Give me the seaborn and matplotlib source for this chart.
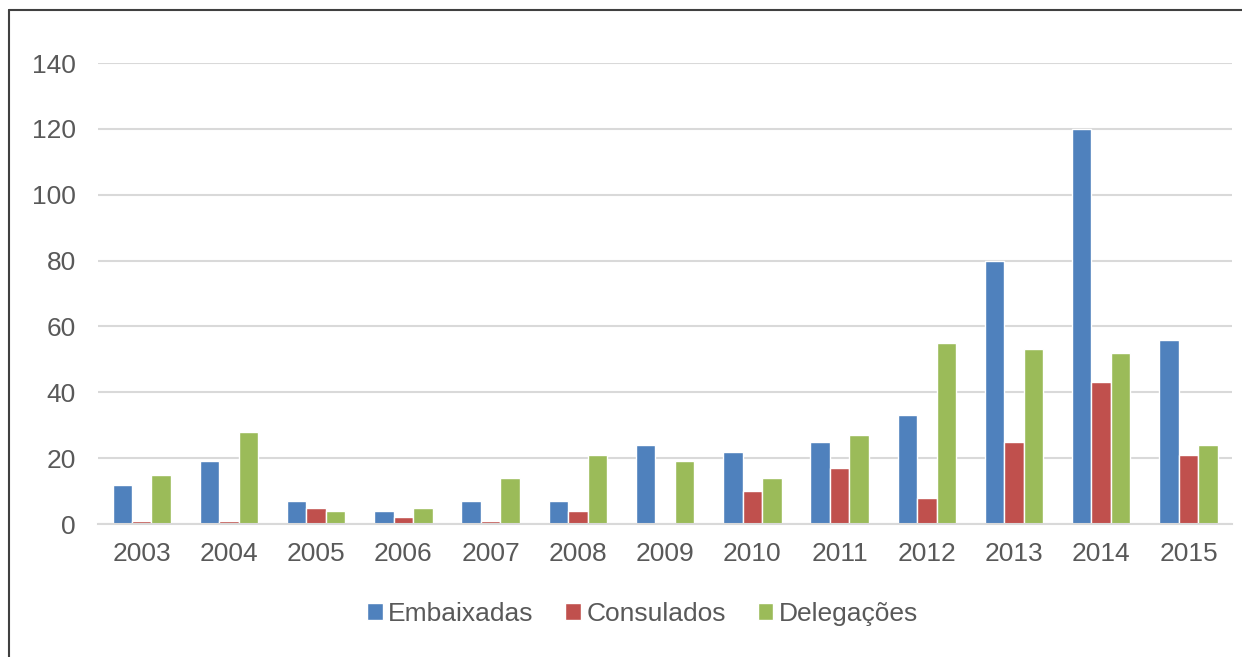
import matplotlib
matplotlib.use("Agg")
import matplotlib.pyplot as plt
import seaborn as sns
import pandas as pd
from matplotlib.lines import Line2D

years = ["2003", "2004", "2005", "2006", "2007", "2008", "2009",
         "2010", "2011", "2012", "2013", "2014", "2015"]
embaixadas = [12, 19, 7, 4, 7, 7, 24, 22, 25, 33, 80, 120, 56]
consulados = [1, 1, 5, 2, 1, 4, 0, 10, 17, 8, 25, 43, 21]
delegacoes = [15, 28, 4, 5, 14, 21, 19, 14, 27, 55, 53, 52, 24]
series_names = ["Embaixadas", "Consulados", "Delegações"]
colors = ["#4F81BD", "#C0504D", "#9BBB59"]

rows = []
for name, vals in zip(series_names, [embaixadas, consulados, delegacoes]):
    for y, v in zip(years, vals):
        rows.append({"Ano": y, "Valor": v, "Tipo": name})
df = pd.DataFrame(rows)

sns.set_theme(style="white")
plt.rcParams['font.family'] = ['Liberation Sans', 'DejaVu Sans']

fig = plt.figure(figsize=(12.42, 6.57), dpi=100)
ax = fig.add_axes([0.079, 0.2024, 0.913, 0.7017])

sns.barplot(data=df, x="Ano", y="Valor", hue="Tipo", palette=colors,
            width=0.67, ax=ax, saturation=1, legend=True)

ax.set_ylim(0, 140)
ax.set_yticks(range(0, 141, 20))
ax.set_xlim(-0.5, len(years) - 0.5)
ax.yaxis.grid(True, color="#D9D9D9", linewidth=1.5)
ax.set_axisbelow(True)
for s in ["top", "right", "left"]:
    ax.spines[s].set_visible(False)
ax.spines["bottom"].set_color("#D9D9D9")
ax.spines["bottom"].set_linewidth(1.5)
ax.set_xlabel("")
ax.set_ylabel("")
ax.tick_params(axis="both", colors="#595959", labelsize=19, length=0)
ax.tick_params(axis="x", pad=13)
ax.tick_params(axis="y", pad=16)

handles, labels = ax.get_legend_handles_labels()
ax.legend(handles, labels, loc="center", bbox_to_anchor=(0.48, -0.195),
          ncol=3, frameon=False, fontsize=19, handlelength=0.6, handleheight=0.6,
          handletextpad=0.2, columnspacing=1.2, labelcolor="#595959")

x0 = 8.5 / 1242
y0 = 1 - 9.5 / 657
fig.add_artist(Line2D([x0, x0], [0, y0], transform=fig.transFigure,
                      color="#404040", linewidth=1.5))
fig.add_artist(Line2D([x0, 1], [y0, y0], transform=fig.transFigure,
                      color="#404040", linewidth=1.5))

fig.savefig("out.png", dpi=100)
